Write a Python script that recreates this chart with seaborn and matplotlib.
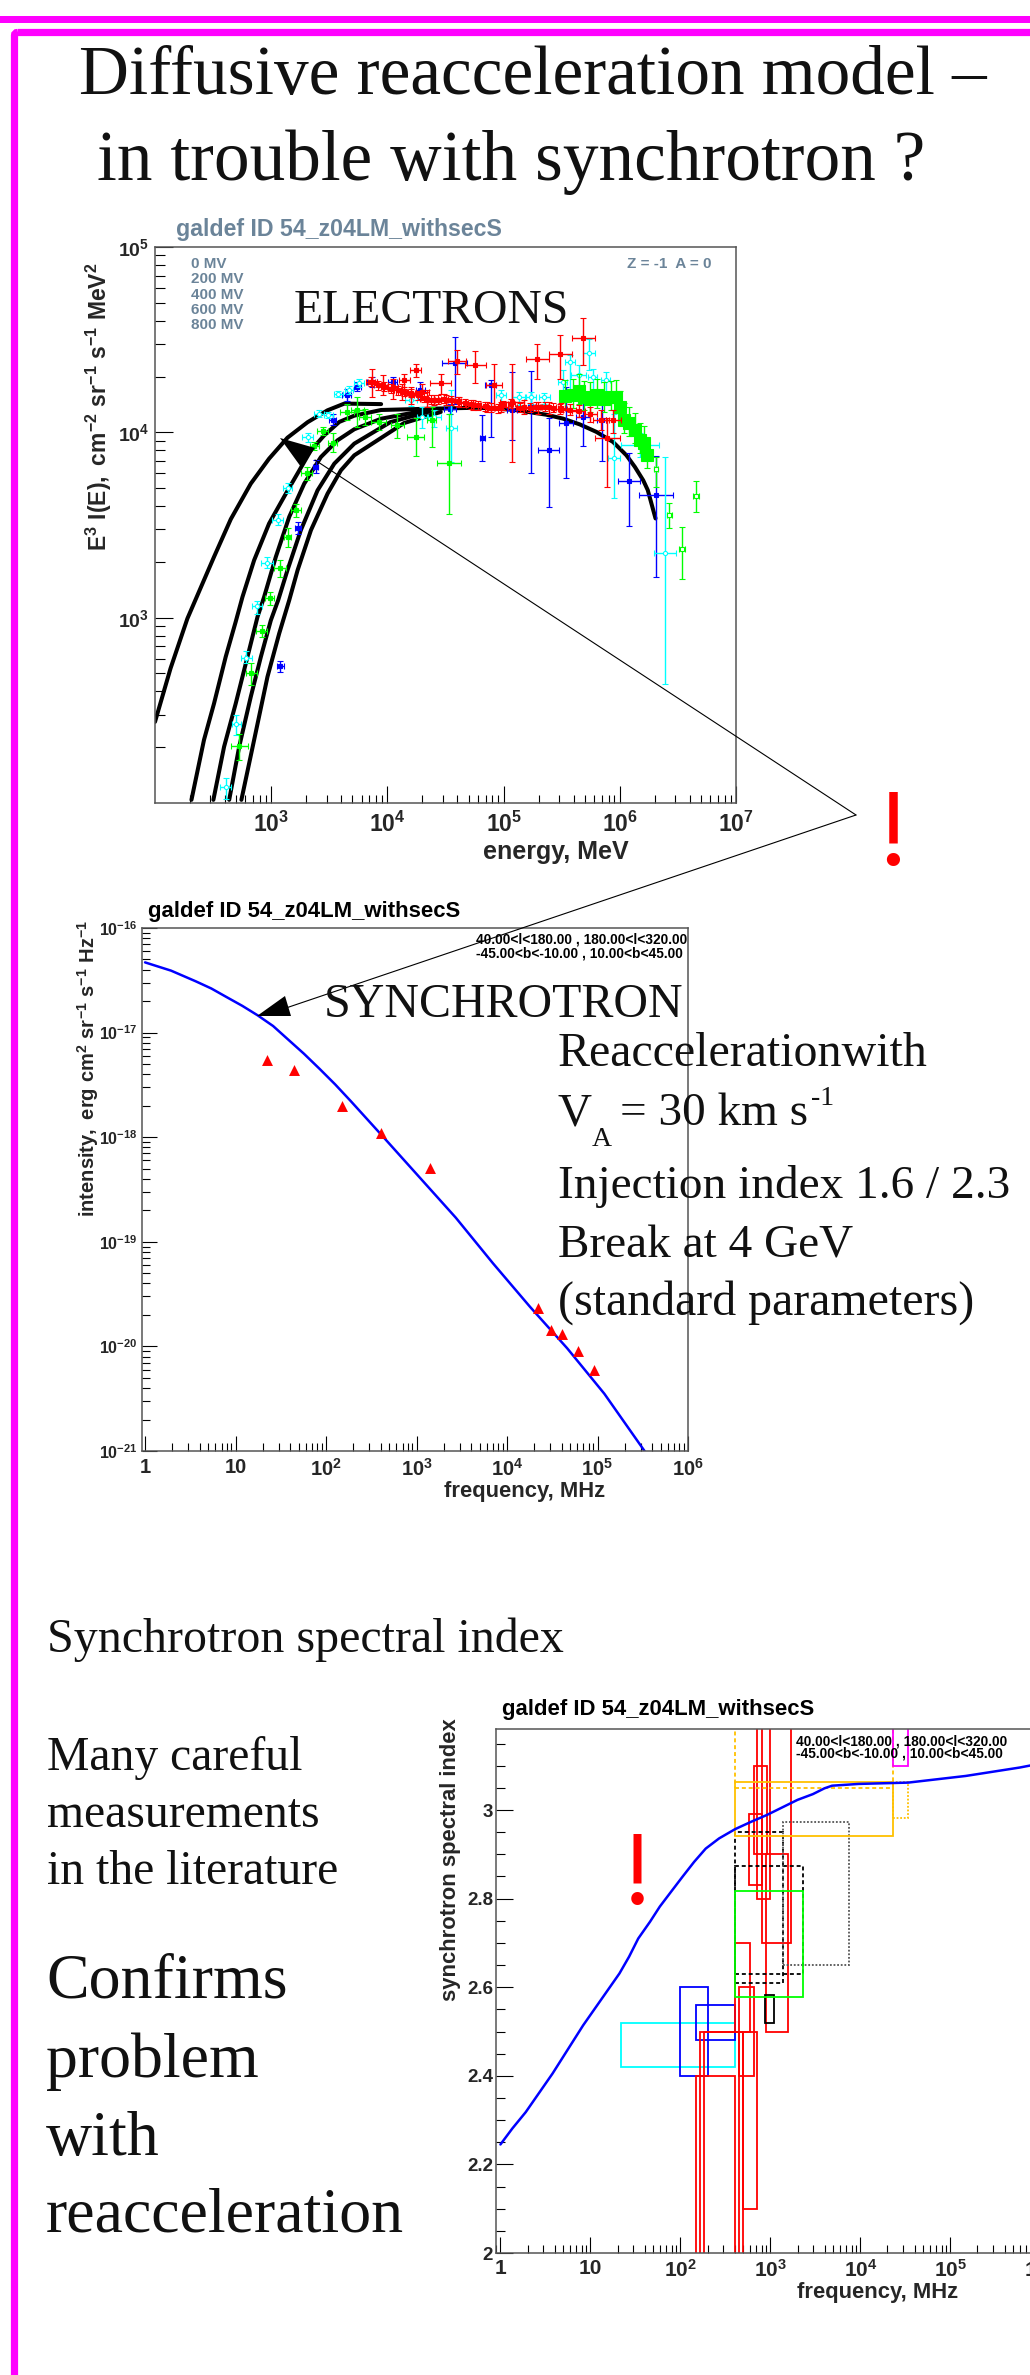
import numpy as np
import seaborn as sns
import matplotlib
matplotlib.use("Agg")
import matplotlib.pyplot as plt
from matplotlib.patches import Polygon, Rectangle, FancyBboxPatch
from matplotlib.ticker import LogLocator, NullFormatter, FixedLocator

W, H = 1030, 2375

### electron model curves, one per modulation potential
tail_energy = [21900, 62100, 120000, 167000, 233000, 324000, 452000, 630000, 875000, 1140000, 1350000, 1590000, 1740000, 2030000]
tail_flux = [13400, 13580, 13240, 12850, 12450, 11860, 11040, 10050, 8870, 7520, 6500, 5510, 4880, 3430]
e0_energy = [100, 136, 190, 232, 322, 449, 667, 959, 1380, 2056, 3055, 4256, 8830]
e0_flux = [274, 532, 989, 1322, 2128, 3400, 5284, 7211, 9354, 11340, 13150, 14290, 14200]
e1_energy = [206, 264, 322, 406, 495, 566, 713, 959, 1337, 2198, 2864, 3855, 5188, 8830, 21900]
e1_flux = [104, 219, 344, 615, 951, 1294, 2042, 3221, 4667, 8000, 9638, 11380, 12300, 13200, 13400]
e2_energy = [318, 393, 495, 625, 762, 869, 1096, 1429, 1923, 2679, 3724, 5188, 8830, 21900]
e2_flux = [104, 201, 344, 615, 1009, 1294, 2128, 3499, 5284, 7362, 9057, 10390, 11840, 13180]
e3_energy = [435, 530, 667, 815, 993, 1148, 1380, 1799, 2506, 3491, 5188, 10600, 24000]
e3_flux = [104, 201, 374, 615, 968, 1242, 1803, 2965, 4864, 6776, 8690, 11350, 13060]
e4_energy = [554, 713, 929, 1172, 1429, 1687, 2198, 3055, 3981, 5188, 13900, 28800]
e4_flux = [104, 219, 480, 822, 1242, 1803, 2965, 4667, 6237, 7516, 11220, 12880]

### electron measurements, log10 values: energy, half width, flux, flux up, flux down
red_e = [3.867, 3.966, 4.045, 4.144, 4.243, 4.124, 4.203, 4.302, 4.460, 4.341, 4.401, 4.500, 4.599, 4.757, 4.915, 4.618, 4.737, 4.856, 4.975, 5.073, 5.172, 5.291, 5.489, 5.687, 5.299, 5.390, 5.489, 5.568, 5.647, 5.746, 5.837, 5.944, 5.893]
red_w = [.047, .04, .05, .048, .05, .047, .055, .06, .09, .06, .06, .06, .08, .09, .07, .06, .06, .06, .06, .10, .06, .10, .10, .10, .06, .06, .055, .055, .055, .055, .07, .065, .11]
red_i = [4.272, 4.254, 4.242, 4.281, 4.335, 4.218, 4.200, 4.218, 4.267, 4.182, 4.173, 4.173, 4.384, 4.366, 4.254, 4.164, 4.146, 4.137, 4.137, 4.163, 4.137, 4.398, 4.420, 4.511, 4.137, 4.134, 4.128, 4.123, 4.116, 4.098, 4.069, 4.066, 3.967]
red_up = [4.344, 4.308, 4.290, 4.317, 4.371, 4.263, 4.245, 4.263, 4.317, 4.227, 4.200, 4.200, 4.443, 4.439, 4.371, 4.191, 4.173, 4.164, 4.164, 4.371, 4.173, 4.475, 4.524, 4.619, 4.164, 4.164, 4.155, 4.152, 4.146, 4.134, 4.119, 4.119, 4.075]
red_dn = [4.191, 4.200, 4.182, 4.236, 4.299, 4.173, 4.155, 4.173, 4.209, 4.137, 4.146, 4.146, 4.314, 4.267, 4.137, 4.137, 4.119, 4.110, 4.110, 3.841, 4.101, 4.290, 4.290, 4.362, 4.101, 4.101, 4.098, 4.093, 4.084, 4.057, 4.012, 3.994, 3.703]

# the crowded run of small red points along the plateau
band_e = [3.859, 3.916, 3.974, 4.031, 4.089, 4.146, 4.204, 4.261, 4.319, 4.376, 4.434, 4.491, 4.549, 4.606, 4.664, 4.721, 4.778, 4.836, 4.893, 4.951, 4.994, 5.066, 5.138, 5.224, 5.281, 5.353, 5.425, 5.497]
band_i = [4.272, 4.254, 4.245, 4.236, 4.227, 4.218, 4.212, 4.200, 4.187, 4.176, 4.176, 4.182, 4.173, 4.167, 4.158, 4.151, 4.146, 4.140, 4.133, 4.131, 4.146, 4.155, 4.133, 4.133, 4.137, 4.137, 4.133, 4.133]
band_up = [4.296, 4.278, 4.269, 4.260, 4.251, 4.242, 4.236, 4.224, 4.211, 4.200, 4.200, 4.206, 4.197, 4.191, 4.182, 4.175, 4.170, 4.164, 4.157, 4.155, 4.170, 4.179, 4.157, 4.157, 4.161, 4.161, 4.157, 4.157]
band_dn = [4.248, 4.230, 4.221, 4.212, 4.203, 4.194, 4.188, 4.176, 4.163, 4.152, 4.152, 4.158, 4.149, 4.143, 4.134, 4.127, 4.122, 4.116, 4.109, 4.107, 4.122, 4.131, 4.109, 4.109, 4.113, 4.113, 4.109, 4.109]
band_w = [.03, .03, .03, .03, .03, .03, .03, .03, .03, .03, .03, .03, .03, .03, .03, .03, .03, .03, .03, .03, .03, .03, .03, .03, .03, .03, .03, .03]

blue_e = [3.649, 3.740, 3.867, 4.045, 4.282, 3.530, 3.384, 3.233, 3.079, 4.579, 4.539, 4.888, 4.816, 5.073, 5.240, 5.390, 5.536, 5.687, 5.845, 6.083, 6.312]
blue_w = [.04, .03, .04, .04, .04, .03, .02, .025, .028, .105, .05, .05, .022, .04, .026, .09, .06, .06, .04, .095, .15]
blue_i = [4.200, 4.245, 4.272, 4.272, 4.227, 4.069, 3.814, 3.482, 2.739, 4.376, 4.128, 4.254, 3.972, 4.119, 4.137, 3.904, 4.048, 4.084, 4.066, 3.738, 3.661]
blue_up = [4.236, 4.272, 4.299, 4.299, 4.272, 4.101, 3.850, 3.517, 2.766, 4.515, 4.155, 4.281, 4.093, 4.326, 4.332, 4.075, 4.245, 4.173, 4.173, 3.889, 3.871]
blue_dn = [4.170, 4.224, 4.245, 4.245, 4.182, 4.039, 3.778, 3.449, 2.707, 4.155, 4.101, 3.976, 3.846, 3.958, 3.778, 3.598, 3.756, 3.927, 3.846, 3.496, 3.217]

cyan_e = [3.578, 3.669, 3.756, 3.412, 3.491, 3.313, 3.142, 3.055, 2.964, 2.877, 2.786, 2.699, 2.608, 4.203, 4.401, 4.302, 4.551, 4.975, 5.133, 5.232, 5.351, 5.572, 5.734, 5.647, 5.509, 5.766, 5.877, 5.948, 6.174, 6.387]
cyan_w = [.04, .035, .04, .04, .04, .045, .04, .045, .05, .045, .05, .04, .05, .05, .06, .045, .048, .044, .06, .05, .046, .04, .05, .066, .04, .04, .04, .05, .16, .095]
cyan_i = [4.206, 4.227, 4.267, 4.101, 4.093, 3.976, 3.697, 3.526, 3.296, 3.063, 2.784, 2.425, 2.085, 4.173, 4.084, 4.084, 4.026, 4.200, 4.188, 4.188, 4.191, 4.378, 4.427, 4.308, 4.272, 4.299, 4.281, 3.861, 3.931, 3.350]
cyan_up = [4.224, 4.249, 4.290, 4.119, 4.110, 3.999, 3.724, 3.559, 3.325, 3.090, 2.822, 2.475, 2.137, 4.200, 4.119, 4.137, 4.227, 4.227, 4.218, 4.218, 4.213, 4.416, 4.506, 4.362, 4.335, 4.344, 4.326, 4.101, 3.994, 3.868]
cyan_dn = [4.188, 4.206, 4.242, 4.084, 4.075, 3.949, 3.670, 3.499, 3.266, 3.018, 2.754, 2.367, 2.022, 4.141, 4.030, 4.021, 3.841, 4.128, 4.146, 4.152, 4.152, 4.218, 4.335, 4.173, 4.173, 4.191, 4.155, 3.643, 3.868, 2.642]

green_e = [3.649, 3.740, 3.807, 3.926, 4.084, 4.243, 4.381, 4.531, 3.443, 3.530, 3.372, 3.305, 3.214, 3.142, 3.075, 2.988, 2.917, 2.830, 2.727]
green_w = [.06, .055, .05, .065, .055, .075, .04, .10, .045, .04, .04, .045, .044, .03, .055, .04, .044, .044, .07]
green_i = [4.110, 4.119, 4.084, 4.057, 4.039, 3.976, 4.066, 3.832, 4.006, 3.943, 3.925, 3.778, 3.580, 3.433, 3.266, 3.104, 2.930, 2.700, 2.308]
green_up = [4.155, 4.188, 4.128, 4.101, 4.101, 4.080, 4.137, 4.101, 4.030, 3.994, 3.949, 3.814, 3.613, 3.482, 3.311, 3.140, 2.960, 2.754, 2.371]
green_dn = [4.066, 4.030, 4.039, 4.012, 3.967, 3.871, 3.922, 3.557, 3.985, 3.895, 3.904, 3.742, 3.544, 3.383, 3.221, 3.068, 2.897, 2.637, 2.233]

# the block of heavy green squares at the high energy end
hess_e = [5.529, 5.600, 5.651, 5.691, 5.742, 5.802, 5.865, 5.920, 5.968, 6.003, 6.035, 6.083, 6.130, 6.170, 6.209, 6.233]
hess_w = [.04, .04, .04, .04, .04, .04, .04, .04, .04, .04, .04, .04, .04, .04, .04, .04]
hess_i = [4.195, 4.200, 4.224, 4.188, 4.182, 4.200, 4.182, 4.188, 4.191, 4.134, 4.069, 4.048, 4.012, 3.961, 3.943, 3.877]
hess_up = [4.285, 4.290, 4.314, 4.278, 4.272, 4.290, 4.272, 4.278, 4.281, 4.224, 4.159, 4.138, 4.102, 4.051, 4.033, 3.967]
hess_dn = [4.125, 4.130, 4.154, 4.118, 4.112, 4.130, 4.112, 4.118, 4.121, 4.064, 3.999, 3.978, 3.942, 3.891, 3.873, 3.807]

open_e = [6.312, 6.427, 6.534, 6.656]
open_w = [.02, .025, .025, .025]
open_i = [3.800, 3.553, 3.368, 3.658]
open_up = [3.868, 3.620, 3.487, 3.737]
open_dn = [3.706, 3.482, 3.207, 3.568]

### synchrotron intensity
sync_freq = [1, 1.94, 3.64, 5.4, 8.0, 11.9, 17.6, 26, 38.6, 57, 84.9, 126, 187, 410, 1054, 2716, 6982, 17950, 46200, 118900, 331000]
sync_model = [4.69e-17, 3.91e-17, 3.09e-17, 2.64e-17, 2.18e-17, 1.80e-17, 1.46e-17, 1.156e-17, 8.5e-18, 6.28e-18, 4.5e-18, 3.2e-18, 2.22e-18, 1.05e-18, 4.23e-19, 1.70e-19, 6.24e-20, 2.39e-20, 9.6e-21, 3.53e-21, 1e-21]
data_freq = [22.2, 44.5, 150, 404, 1400, 22000, 30700, 40100, 60400, 92500]
data_int = [5.42e-18, 4.40e-18, 1.98e-18, 1.09e-18, 5.08e-19, 2.33e-20, 1.45e-20, 1.32e-20, 9.0e-21, 5.9e-21]

### synchrotron spectral index
index_freq = [1, 1.355, 1.91, 3.79, 8.3, 21, 26.9, 34, 46, 59, 79, 106, 142, 191, 269, 406, 618, 916, 2000, 2965, 3980, 4840, 9560, 34000, 148000, 589000, 1000000]
index_model = [2.245, 2.281, 2.318, 2.405, 2.514, 2.631, 2.669, 2.71, 2.748, 2.782, 2.816, 2.85, 2.883, 2.913, 2.936, 2.957, 2.974, 2.989, 3.023, 3.036, 3.049, 3.055, 3.059, 3.062, 3.077, 3.096, 3.105]

# boxes: frequency range, index range (some run off the axes)
box_f1 = [22, 100, 150, 150, 166, 181, 494, 452, 406, 583, 656, 703, 814, 897, 871, 406, 406, 1396, 406, 406, 406, 23200, 23200]
box_f2 = [406, 200, 406, 406, 452, 494, 716, 662, 589, 814, 916, 980, 1700, 1570, 1100, 1396, 2323, 7530, 2323, 23200, 23200, 33400, 33400]
box_i1 = [2.42, 2.40, 2.48, 1.8, 1.8, 1.8, 2.10, 2.40, 2.50, 2.83, 2.90, 2.80, 2.70, 2.50, 2.52, 2.61, 2.631, 2.65, 2.578, 2.942, 3.05, 2.982, 3.10]
box_i2 = [2.52, 2.60, 2.56, 2.40, 2.50, 2.50, 2.50, 2.60, 2.70, 2.99, 3.10, 3.40, 3.40, 2.90, 2.582, 2.95, 2.874, 2.972, 2.818, 3.063, 3.40, 3.063, 3.40]
box_color = ["#00ffff", "#0000ff", "#0000ff"] + ["#ff0000"] * 11 + ["#000000", "#000000", "#000000", "#555555", "#00ff00", "#ffc000", "#ffc000", "#ffc000", "#ff00ff"]
box_style = ["-"] * 15 + ["dash", "dash", "dot", "-", "-", "dash", "dot", "-"]

### text
gal_title = "galdef ID 54_z04LM_withsecS"
region_l = "40.00<l<180.00 , 180.00<l<320.00"
region_b = "-45.00<b<-10.00 , 10.00<b<45.00"
mod_labels = ["0 MV", "200 MV", "400 MV", "600 MV", "800 MV"]
slate = "#6b8499"
frame = "#555555"
dashes = {"-": "-", "dash": (0, (2.2, 1.6)), "dot": (0, (1, 1))}

sns.set_theme(style="ticks")
plt.rcParams["font.family"] = ["Liberation Sans", "DejaVu Sans"]
plt.rcParams["font.weight"] = "bold"
plt.rcParams["mathtext.fontset"] = "custom"
plt.rcParams["mathtext.rm"] = "Liberation Sans:bold"
plt.rcParams["mathtext.bf"] = "Liberation Sans:bold"
plt.rcParams["mathtext.it"] = "Liberation Sans:bold"
plt.rcParams["mathtext.default"] = "bf"
plt.rcParams["xtick.direction"] = "in"
plt.rcParams["ytick.direction"] = "in"

fig = plt.figure(figsize=(W / 100, H / 100), dpi=100, facecolor="white")


def panel(left, right, top, bottom):
    ax = fig.add_axes([left / W, 1 - bottom / H, (right - left) / W, (bottom - top) / H])
    for s in ax.spines.values():
        s.set_color(frame)
        s.set_linewidth(1.1)
    return ax


def log_ticks(axis):
    axis.set_minor_locator(LogLocator(base=10, subs=[2, 3, 4, 5, 6, 7, 8, 9], numticks=30))
    axis.set_minor_formatter(NullFormatter())


def data_bars(ax, e, w, i, up, dn, color, marker="s", ms=2.5, mfc=None, lw=1.0, zorder=3):
    e, w, i, up, dn = [np.array(v) for v in (e, w, i, up, dn)]
    x = 10.0 ** e
    y = 10.0 ** i
    ax.errorbar(x, y, xerr=[x - 10.0 ** (e - w), 10.0 ** (e + w) - x], yerr=[y - 10.0 ** dn, 10.0 ** up - y],
                fmt=marker, color=color, ms=ms, mfc=mfc or color, mew=0.8, elinewidth=lw, capsize=2.2,
                capthick=lw, zorder=zorder)


### electrons
ax1 = panel(155, 736, 247, 803)
ax1.set_xscale("log")
ax1.set_yscale("log")
curves = [(e0_energy, e0_flux), (e1_energy, e1_flux), (e2_energy, e2_flux), (e3_energy, e3_flux), (e4_energy, e4_flux), (tail_energy, tail_flux)]
for en, fl in curves:
    sns.lineplot(x=en, y=fl, ax=ax1, color="black", lw=2.9, sort=False, errorbar=None, zorder=2)
data_bars(ax1, blue_e, blue_w, blue_i, blue_up, blue_dn, "#0000ff", zorder=3)
data_bars(ax1, cyan_e, cyan_w, cyan_i, cyan_up, cyan_dn, "#00ffff", marker="o", ms=3, mfc="white", zorder=4)
data_bars(ax1, green_e, green_w, green_i, green_up, green_dn, "#00ff00", zorder=5)
data_bars(ax1, hess_e, hess_w, hess_i, hess_up, hess_dn, "#00ff00", ms=8, zorder=5)
data_bars(ax1, open_e, open_w, open_i, open_up, open_dn, "#00ff00", ms=3, mfc="white", zorder=5)
data_bars(ax1, red_e, red_w, red_i, red_up, red_dn, "#ff0000", ms=3, zorder=6)
data_bars(ax1, band_e, band_w, band_i, band_up, band_dn, "#ff0000", ms=3, lw=0.8, zorder=6)
ax1.set_xlim(100, 1e7)
ax1.set_ylim(100, 1e5)
ax1.set_xticks([1e3, 1e4, 1e5, 1e6, 1e7], [r"$10^{3}$", r"$10^{4}$", r"$10^{5}$", r"$10^{6}$", r"$10^{7}$"])
ax1.set_yticks([1e3, 1e4, 1e5], [r"$10^{3}$", r"$10^{4}$", r"$10^{5}$"])
log_ticks(ax1.xaxis)
log_ticks(ax1.yaxis)
ax1.tick_params(axis="x", which="major", length=12, width=0.8, color="black", labelsize=16.5, pad=6)
ax1.tick_params(axis="x", which="minor", length=6, width=0.8, color="black")
ax1.tick_params(axis="y", which="major", length=13, width=0.8, color="black", labelsize=14, pad=4)
ax1.tick_params(axis="y", which="minor", length=7, width=0.8, color="black")
ax1.set_xlabel("energy, MeV", fontsize=18, fontweight="bold", va="baseline")
ax1.xaxis.set_label_coords(0.69, -0.101)
ax1.set_ylabel(r"$\mathbf{E^{3}\ I(E),\ cm^{-2}\ sr^{-1}\ s^{-1}\ MeV^{2}}$", fontsize=16.5, fontweight="bold", va="center")
ax1.yaxis.set_label_coords(-0.096, 0.712)

### synchrotron
ax2 = panel(142, 688, 928, 1451)
ax2.set_xscale("log")
ax2.set_yscale("log")
sns.lineplot(x=sync_freq, y=sync_model, ax=ax2, color="#0000ff", lw=1.8, sort=False, errorbar=None, zorder=2)
sns.scatterplot(x=data_freq, y=data_int, ax=ax2, color="#ff0000", marker="^", s=62, linewidth=0, zorder=3)
ax2.set_xlim(0.925, 1e6)
ax2.set_ylim(1e-21, 1e-16)
ax2.set_xticks([1, 10, 1e2, 1e3, 1e4, 1e5, 1e6], ["1", "10", r"$10^{2}$", r"$10^{3}$", r"$10^{4}$", r"$10^{5}$", r"$10^{6}$"])
ax2.set_yticks([1e-21, 1e-20, 1e-19, 1e-18, 1e-17, 1e-16],
               [r"$10^{-21}$", r"$10^{-20}$", r"$10^{-19}$", r"$10^{-18}$", r"$10^{-17}$", r"$10^{-16}$"])
log_ticks(ax2.xaxis)
log_ticks(ax2.yaxis)
ax2.tick_params(axis="x", which="major", length=11, width=0.8, color="black", labelsize=14.5, pad=5)
ax2.tick_params(axis="x", which="minor", length=5.5, width=0.8, color="black")
ax2.tick_params(axis="y", which="major", length=11, width=0.8, color="black", labelsize=11.5, pad=3)
ax2.tick_params(axis="y", which="minor", length=6, width=0.8, color="black")
ax2.set_xlabel("frequency, MHz", fontsize=15.8, fontweight="bold", va="baseline")
ax2.xaxis.set_label_coords(0.70, -0.088)
ax2.set_ylabel(r"$\mathbf{intensity,\ erg\ cm^{2}\ sr^{-1}\ s^{-1}\ Hz^{-1}}$", fontsize=14.5, fontweight="bold", va="center")
ax2.yaxis.set_label_coords(-0.099, 0.732)

### spectral index, this axes runs past the right edge of the page
ax3 = panel(496, 1040.4, 1729, 2253)
ax3.set_xscale("log")
sns.lineplot(x=index_freq, y=index_model, ax=ax3, color="#0000ff", lw=1.8, sort=False, errorbar=None, zorder=4)
for f1, f2, i1, i2, c, ls in zip(box_f1, box_f2, box_i1, box_i2, box_color, box_style):
    ax3.add_patch(Rectangle((f1, i1), f2 - f1, i2 - i1, fill=False, ec=c, ls=dashes[ls], lw=1.3))
ax3.set_xlim(0.893, 1e6)
ax3.set_ylim(2, 3.183)
ax3.set_xticks([1, 10, 1e2, 1e3, 1e4, 1e5, 1e6], ["1", "10", r"$10^{2}$", r"$10^{3}$", r"$10^{4}$", r"$10^{5}$", r"$10^{6}$"])
ax3.set_yticks([2, 2.2, 2.4, 2.6, 2.8, 3], ["2", "2.2", "2.4", "2.6", "2.8", "3"])
ax3.yaxis.set_minor_locator(FixedLocator([2.05, 2.1, 2.15, 2.25, 2.3, 2.35, 2.45, 2.5, 2.55, 2.65, 2.7, 2.75, 2.85, 2.9, 2.95, 3.05, 3.1, 3.15]))
log_ticks(ax3.xaxis)
ax3.tick_params(axis="x", which="major", length=11.5, width=0.8, color="black", labelsize=15, pad=4)
ax3.tick_params(axis="x", which="minor", length=5.5, width=0.8, color="black")
ax3.tick_params(axis="y", which="major", length=12, width=0.8, color="black", labelsize=13.5, pad=2)
ax3.tick_params(axis="y", which="minor", length=6.5, width=0.8, color="black")
ax3.set_xlabel("frequency, MHz", fontsize=15.8, fontweight="bold", va="baseline")
ax3.xaxis.set_label_coords((878 - 496) / 544.4, -0.086)
ax3.set_ylabel("synchrotron spectral index", fontsize=15.8, fontweight="bold", va="center")
ax3.yaxis.set_label_coords(-0.084, 0.75)

### slide layer on top, in page pixels
top = fig.add_axes([0, 0, 1, 1], facecolor="none")
top.set_xlim(0, W)
top.set_ylim(H, 0)
top.axis("off")

top.add_patch(Rectangle((0, 16), W, 7, fc="#ff00ff", ec="none"))
top.add_patch(FancyBboxPatch((14.5, 32.5), W + 50, H + 50, boxstyle="round,pad=0,rounding_size=3", fill=False, ec="#ff00ff", lw=5.2))

top.plot([315, 856], [460, 815], color="black", lw=0.8)
top.plot([286, 856], [1008, 815], color="black", lw=0.8)
top.add_patch(Polygon([(280, 438), (315, 448), (301, 467)], fc="black", ec="none"))
top.add_patch(Polygon([(257, 1016), (285, 996), (291, 1016)], fc="black", ec="none"))


def serif(x, y, s, size, color="#111111", weight="normal"):
    top.text(x, y, s, fontsize=size, color=color, family="Liberation Serif", fontweight=weight, va="baseline", ha="left")


def sans(x, y, s, size, color="black"):
    top.text(x, y, s, fontsize=size, color=color, fontweight="bold", va="baseline", ha="left")


serif(79, 94, "Diffusive reacceleration model –", 49.8)
serif(97, 180, "in trouble with synchrotron ?", 51.3)
serif(294, 323, "ELECTRONS", 34.3)
serif(324, 1017, "SYNCHROTRON", 34.5)
serif(558, 1066, "Reaccelerationwith", 34.5)
serif(558, 1125, "V", 34)
serif(592, 1146, "A", 20)
serif(620, 1125, "= 30 km s", 34)
serif(811, 1105, "-1", 20)
serif(558, 1198, "Injection index 1.6 / 2.3", 34)
serif(558, 1258, "Break at 4 GeV", 34)
serif(558, 1315, "(standard parameters)", 34.5)
serif(47, 1652, "Synchrotron spectral index", 34.5)
serif(47, 1770, "Many careful", 34.3)
serif(47, 1827, "measurements", 34.3)
serif(47, 1884, "in the literature", 34.3)
serif(46, 1998, "Confirms", 46)
serif(46, 2077, "problem", 46)
serif(46, 2155, "with", 46)
serif(46, 2232, "reacceleration", 46)
top.text(893, 864, "!", fontsize=80, color="#ff0000", family="Liberation Serif", ha="center", va="baseline", fontweight="normal")
top.text(637, 1904, "!", fontsize=76, color="#ff0000", family="Liberation Serif", ha="center", va="baseline", fontweight="normal")

sans(176, 236, gal_title, 16.7, slate)
sans(148, 917, gal_title, 15.9)
sans(502, 1715, gal_title, 15.9)
for k, lab in enumerate(mod_labels):
    sans(191, 268 + 15.3 * k, lab, 11, slate)
sans(627, 268, "Z = -1  A = 0", 11, slate)
sans(476, 944, region_l, 9.9)
sans(476, 958, region_b, 9.9)
sans(796, 1745, region_l, 9.9)
sans(796, 1758, region_b, 9.9)

fig.savefig("out.png", dpi=100)
